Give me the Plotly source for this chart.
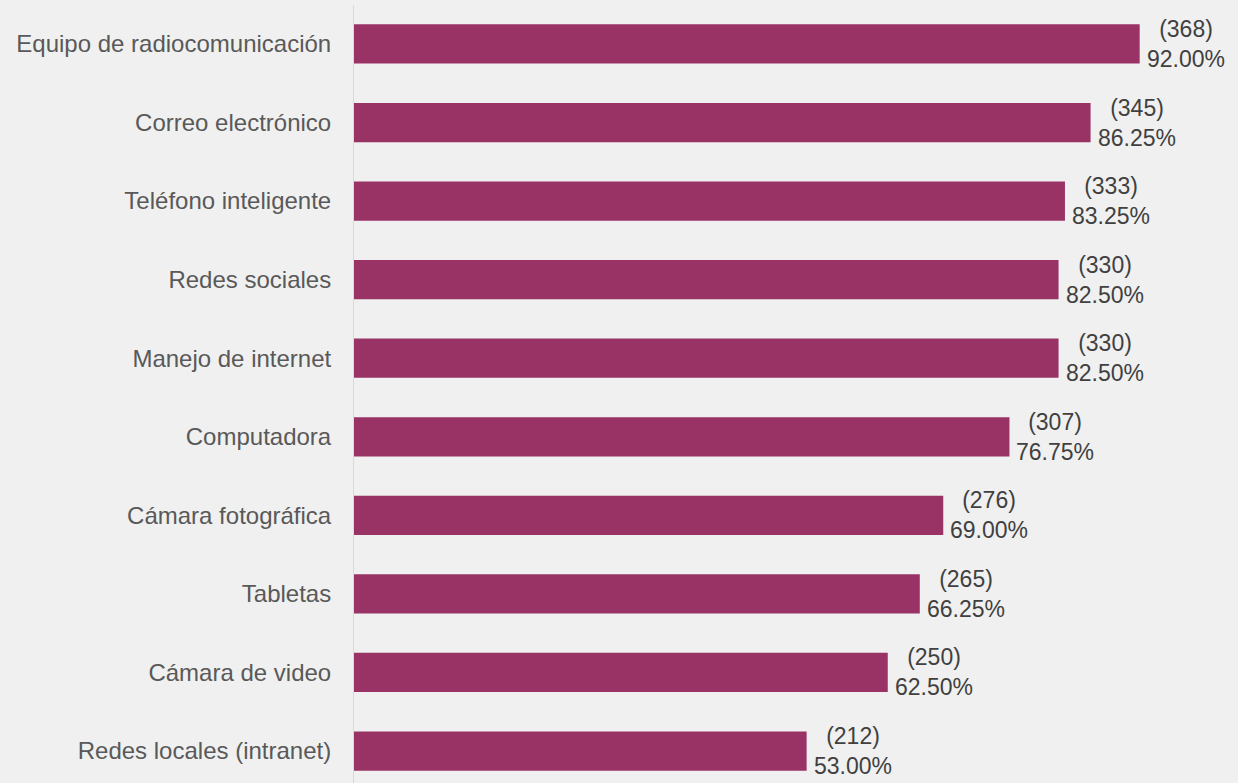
import plotly.graph_objects as go

# Categories from top to bottom as shown
categorias = [
    'Equipo de radiocomunicación',
    'Correo electrónico',
    'Teléfono inteligente',
    'Redes sociales',
    'Manejo de internet',
    'Computadora',
    'Cámara fotográfica',
    'Tabletas',
    'Cámara de video',
    'Redes locales (intranet)',
]
frecuencias = [368, 345, 333, 330, 330, 307, 276, 265, 250, 212]
porcentajes = [92.00, 86.25, 83.25, 82.50, 82.50, 76.75, 69.00, 66.25, 62.50, 53.00]

# plotly draws the first category at the bottom, so reverse
cats = categorias[::-1]
pcts = porcentajes[::-1]
cuentas = frecuencias[::-1]

fig = go.Figure()

fig.add_trace(go.Bar(
    y=cats,
    x=pcts,
    orientation='h',
    marker=dict(color='#993366', line=dict(width=0)),
    hoverinfo='skip',
))

# two-line value labels, centred on each other, just right of the bar end
for c, p, n in zip(cats, pcts, cuentas):
    fig.add_annotation(
        x=p, y=c,
        text=f'({n})<br>{p:.2f}%',
        showarrow=False,
        xanchor='left',
        yanchor='middle',
        align='center',
        xshift=5,
        font=dict(size=23, color='#404040', family='Liberation Sans, Arial'),
    )

fig.update_layout(
    width=1238,
    height=783,
    margin=dict(l=354, r=30, t=5, b=0),
    paper_bgcolor='#f0f0f0',
    plot_bgcolor='#f0f0f0',
    font=dict(family='Liberation Sans, Arial', size=24, color='#595959'),
    bargap=0.5,
    showlegend=False,
    xaxis=dict(
        range=[0, 100],
        showgrid=False,
        showticklabels=False,
        zeroline=False,
        showline=False,
        fixedrange=True,
    ),
    yaxis=dict(
        range=[-0.407, 9.496],
        showgrid=False,
        showline=True,
        linecolor='#d9d9d9',
        linewidth=1,
        ticks='',
        ticklabelstandoff=17,
        tickfont=dict(size=24, color='#595959'),
        fixedrange=True,
    ),
)

# drop the browser's default page margin so the chart sits at the corner
fig.write_html('out.html', config={'displayModeBar': False},
               post_script="document.body.style.margin='0';")
